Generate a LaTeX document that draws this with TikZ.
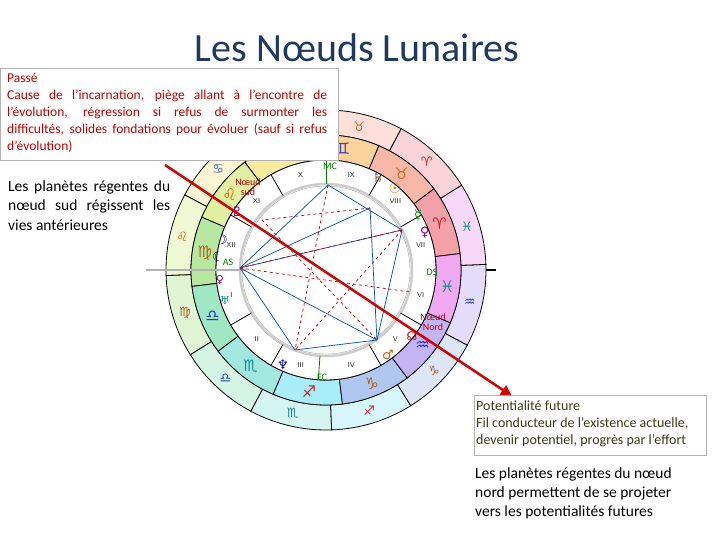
\documentclass[tikz,border=0pt]{standalone}
\usepackage{fontspec}
\setmainfont{Carlito}
\newfontfamily\sym{DejaVu Sans}
\usetikzlibrary{arrows.meta,calc}
\definecolor{c0}{HTML}{F4A0A8}\definecolor{c1}{HTML}{F8B8A8}\definecolor{c2}{HTML}{FAD49A}
\definecolor{c3}{HTML}{F8EC9C}\definecolor{c4}{HTML}{E0F0A0}\definecolor{c5}{HTML}{B8E8A0}
\definecolor{c6}{HTML}{A0E8C4}\definecolor{c7}{HTML}{A0E8E0}\definecolor{c8}{HTML}{A8EEF8}
\definecolor{c9}{HTML}{B0C8F0}\definecolor{c10}{HTML}{C4B4F4}\definecolor{c11}{HTML}{F0A8F0}
\definecolor{g0}{HTML}{D02020}\definecolor{g1}{HTML}{D07020}\definecolor{g2}{HTML}{4040C0}
\definecolor{g3}{HTML}{4060C0}\definecolor{g4}{HTML}{D06020}\definecolor{g5}{HTML}{B06020}
\definecolor{g6}{HTML}{2040C0}\definecolor{g7}{HTML}{109090}\definecolor{g8}{HTML}{D02020}
\definecolor{g9}{HTML}{B06020}\definecolor{g10}{HTML}{2030D0}\definecolor{g11}{HTML}{109090}
\definecolor{txtred}{HTML}{C00000}\definecolor{ttl}{HTML}{1F3864}\definecolor{olive}{HTML}{3A3A1A}
\tikzset{box/.style={draw=gray!60,fill=white,line width=0.8pt},
 asp/.style={blue!60!black!70!cyan,line width=0.7pt},
 aspr/.style={red!80!black,dashed,line width=0.7pt},
 cusp/.style={black,line width=0.8pt},
 lbl/.style={inner sep=0pt,anchor=base west}}
\begin{document}
\begin{tikzpicture}[x=1pt,y=-1pt]
\useasboundingbox (0,0) rectangle (720,540);
\coordinate (O) at (326,270);
\foreach \i in {0,...,11}{
 \pgfmathsetmacro\a{-32-30*\i}
 \fill[c\i!45!white,draw=black,line width=0.8pt] ($(O)+(\a:160)$) arc[start angle=\a,end angle=\a-30,radius=160] -- ($(O)+(\a-30:135)$) arc[start angle=\a-30,end angle=\a,radius=135] -- cycle;
}
\foreach \i in {0,...,11}{
 \pgfmathsetmacro\a{-7-30*\i}
 \fill[c\i,draw=black,line width=0.8pt] ($(O)+(\a:135)$) arc[start angle=\a,end angle=\a-30,radius=135] -- ($(O)+(\a-30:110)$) arc[start angle=\a-30,end angle=\a,radius=110] -- cycle;
}
\fill[white,draw=black,line width=0.8pt] (O) circle[radius=110];
\draw[gray!40,line width=2.5pt] (O) circle[radius=86];
\draw[gray!70,line width=0.4pt] (O) circle[radius=84];
\foreach \i/\s in {0/♈,1/♉,2/♊,3/♋,4/♌,5/♍,6/♎,7/♏,8/♐,9/♑,10/♒,11/♓}{
 \pgfmathsetmacro\a{-47-30*\i}\pgfmathsetmacro\b{-22-30*\i}
 \node[text=g\i,font=\sym\fontsize{13}{13}\selectfont] (so\i) at ($(O)+(\a:147.5)$) {\s};
 \node[text=g\i,font=\sym\fontsize{16}{16}\selectfont] (si\i) at ($(O)+(\b:122.5)$) {\s};
}
\foreach \a in {150,120,60,30,-30,-60,-120,-150}{
 \draw[cusp] ($(O)+(\a:86)$) -- ($(O)+(\a:110)$);}
\draw[gray!60,line width=2pt] ($(O)+(180:80)$) -- ($(O)+(180:180)$);
\draw[black,line width=1.5pt] ($(O)+(0:160)$) -- ($(O)+(0:170)$);
\draw[green!50!black,line width=0.8pt] ($(O)+(-90:86)$) -- ($(O)+(-90:110)$);
\draw[green!50!black,line width=0.8pt] ($(O)+(94:86)$) -- ($(O)+(94:110)$);
\foreach \a/\n in {165/XII,135/XI,105/X,75/IX,45/VIII,15/VII,-15/VI,-45/V,-75/IV,-105/III,-135/II,-165/I}{
 \node[font=\sffamily\fontsize{7}{7}\selectfont,gray!30!black] (h\n) at ($(O)+(-\a:98)$) {\n};}
\node[font=\fontsize{10}{10}\selectfont,green!50!black] (mc) at (330,166) {MC};
\node[font=\fontsize{10}{10}\selectfont,green!50!black] (ds) at (432,272) {DS};
\node[font=\fontsize{10}{10}\selectfont,green!50!black] (fc) at (322,377) {FC};
\node[font=\fontsize{10}{10}\selectfont,green!50!black] (as) at (228,262) {AS};
\node[font=\sym\fontsize{13}{13}\selectfont,brown!70!black] (sat) at (378,178) {♄};
\node[font=\sym\fontsize{14}{14}\selectfont,orange!90!black] (sun) at (395,188) {☉};
\node[font=\sym\fontsize{13}{13}\selectfont,green!60!black] (mer) at (418,215) {☿};
\node[font=\sym\fontsize{13}{13}\selectfont,violet] (ven) at (425,233) {♀};
\node[font=\sym\fontsize{13}{13}\selectfont,blue!70!black] (moon) at (222,240) {☽};
\node[font=\sym\fontsize{13}{13}\selectfont,black] (lil) at (218,257) {☾};
\node[font=\sym\fontsize{11}{11}\selectfont,violet] (ven2) at (220,280) {♀};
\node[font=\sym\fontsize{11}{11}\selectfont,teal] (ura) at (225,300) {♅};
\node[font=\sym\fontsize{13}{13}\selectfont,blue!70!black] (nep) at (283,365) {♆};
\node[font=\sym\fontsize{13}{13}\selectfont,orange!80!black] (mar) at (388,355) {♂};
\node[font=\sym\fontsize{13}{13}\selectfont,violet] (plu) at (237,212) {♇};
\node[font=\sym\fontsize{12}{12}\selectfont,red!70!black] (nn) at (412,336) {☊};
\coordinate (A) at (328,185);\coordinate (B) at (370,208);\coordinate (C) at (402,230);
\coordinate (D) at (240,268);\coordinate (E) at (377,340);\coordinate (F) at (295,350);
\coordinate (G) at (262,220);\coordinate (H) at (410,292);
\draw[asp] (A) -- (C) -- (E) -- (F);
\draw[asp] (D) -- (B);\draw[asp] (D) -- (C);\draw[asp] (D) -- (E);\draw[asp] (D) -- (F);
\draw[asp] (B) -- (E);\draw[asp] (D) -- (A);
\draw[aspr] (A) -- (F);\draw[aspr] (D) -- (H);\draw[aspr] (C) -- (F);\draw[aspr] (G) -- (E);
\draw[aspr] (D) -- (C);\draw[aspr] (B) -- (G);
\node[font=\fontsize{40}{40}\selectfont,text=ttl] (title) at (357,48) {Les Nœuds Lunaires};
\node[box,minimum width=338pt,minimum height=92pt,anchor=north west] (past) at (0,68) {};
\node[lbl,text=txtred,font=\fontsize{13.5}{13.5}\selectfont] (p1) at (7,83) {Passé};
\node[lbl,text=txtred,font=\fontsize{13.5}{13.5}\selectfont] (p2) at (7,100) {\makebox[320pt][s]{Cause de l’incarnation, piège allant à l’encontre de}};
\node[lbl,text=txtred,font=\fontsize{13.5}{13.5}\selectfont] (p3) at (7,117) {\makebox[320pt][s]{l’évolution, régression si refus de surmonter les}};
\node[lbl,text=txtred,font=\fontsize{13.5}{13.5}\selectfont] (p4) at (7,134) {\makebox[320pt][s]{difficultés, solides fondations pour évoluer (sauf si refus}};
\node[lbl,text=txtred,font=\fontsize{13.5}{13.5}\selectfont] (p5) at (7,151) {d’évolution)};
\node[lbl,font=\fontsize{15.5}{15.5}\selectfont] (l1) at (8,192) {\makebox[162pt][s]{Les planètes régentes du}};
\node[lbl,font=\fontsize{15.5}{15.5}\selectfont] (l2) at (8,211) {\makebox[162pt][s]{nœud sud régissent les}};
\node[lbl,font=\fontsize{15.5}{15.5}\selectfont] (l3) at (8,230) {vies antérieures};
\node[text=txtred,font=\fontsize{10}{10.5}\selectfont,align=center] (ns) at (248,187) {Nœud\\sud};
\node[text=txtred,font=\fontsize{10}{10.5}\selectfont,align=center] (nno) at (433,322) {Nœud\\Nord};
\coordinate (arS) at (165,165);\coordinate (arE) at (512,396);
\draw[red!85!black,line width=2.5pt,-{Triangle[length=11pt,width=11pt]}] (arS) -- (arE);
\node[box,minimum width=232pt,minimum height=60pt,anchor=north west] (fut) at (474,395) {};
\node[lbl,text=olive,font=\fontsize{14}{14}\selectfont] (f1) at (476,410) {Potentialité future};
\node[lbl,text=olive,font=\fontsize{14}{14}\selectfont] (f2) at (476,427) {Fil conducteur de l’existence actuelle,};
\node[lbl,text=olive,font=\fontsize{14}{14}\selectfont] (f3) at (476,444) {devenir potentiel, progrès par l’effort};
\node[lbl,font=\fontsize{15.5}{15.5}\selectfont] (n1) at (475,478) {Les planètes régentes du nœud};
\node[lbl,font=\fontsize{15.5}{15.5}\selectfont] (n2) at (475,497) {nord permettent de se projeter};
\node[lbl,font=\fontsize{15.5}{15.5}\selectfont] (n3) at (475,516) {vers les potentialités futures};
\end{tikzpicture}
\end{document}
